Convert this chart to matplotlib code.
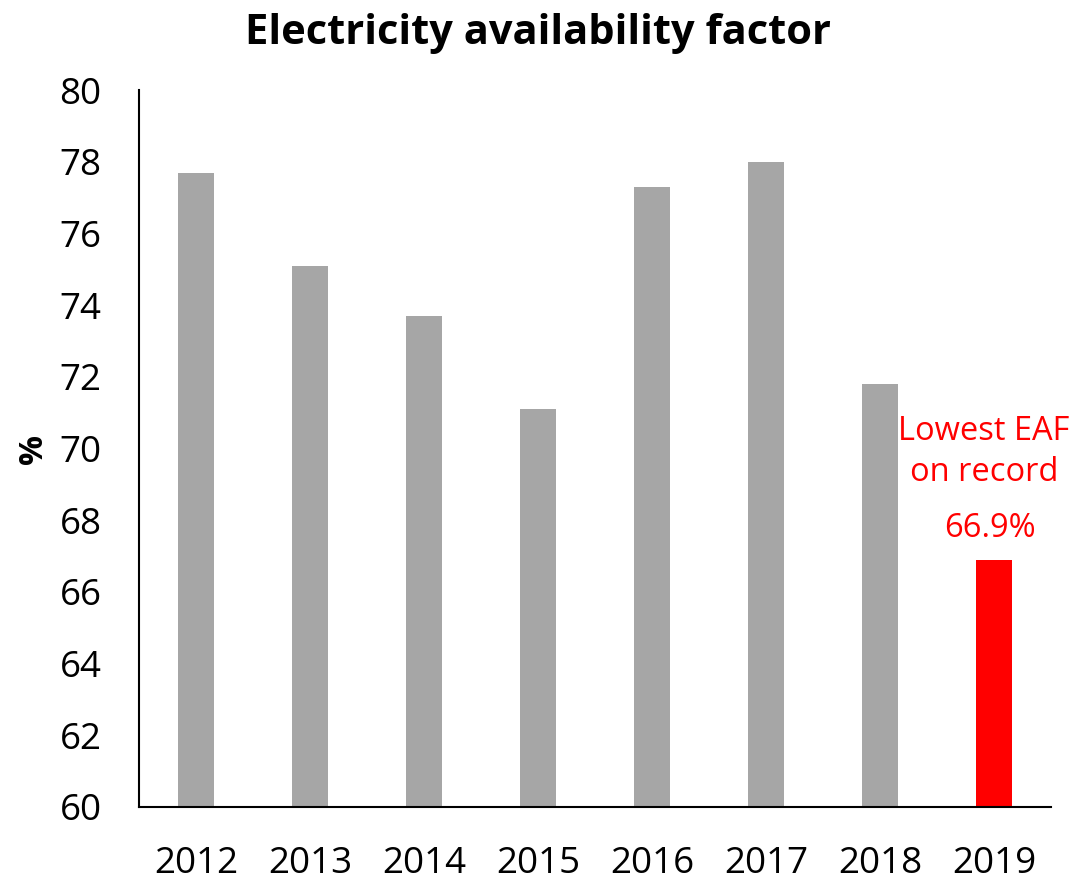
import matplotlib.pyplot as plt

years = ["2012", "2013", "2014", "2015", "2016", "2017", "2018", "2019"]
eaf = [77.7, 75.1, 73.7, 71.1, 77.3, 78.0, 71.8, 66.9]
bar_colors = ["#a6a6a6"] * 7 + ["#ff0000"]

plt.rcParams['font.family'] = ['Open Sans', 'DejaVu Sans']

fig = plt.figure(figsize=(10.76, 8.83), dpi=100)
ax = fig.add_axes([0.1292, 0.0861, 0.8476, 0.8119])

x = range(len(years))
ax.bar(x, eaf, width=0.32, color=bar_colors)
ax.set_ylim(60, 80)
ax.set_xlim(-0.5, len(years) - 0.5)
ax.set_yticks(range(60, 81, 2))
ax.set_xticks(list(x))
ax.set_xticklabels(years)
ax.tick_params(axis='both', length=0, labelsize=26.5)
ax.tick_params(axis='y', pad=27)
ax.tick_params(axis='x', pad=28)

for s in ['top', 'right']:
    ax.spines[s].set_visible(False)
for s in ['left', 'bottom']:
    ax.spines[s].set_linewidth(1.5)

ax.set_ylabel('%', fontsize=24, fontweight='bold', labelpad=7)
fig.suptitle('Electricity availability factor', fontsize=30, fontweight='bold', y=0.985)

# annotation for the 2019 record low
ax.text(6.91, 69.9, 'Lowest EAF\non record', color='#ff0000', fontsize=23.5,
        ha='center', va='center', linespacing=1.35)
ax.text(6.96, 67.78, f'{eaf[-1]}%', color='#ff0000', fontsize=23.5, ha='center', va='center')

fig.savefig('out.png', dpi=100)
